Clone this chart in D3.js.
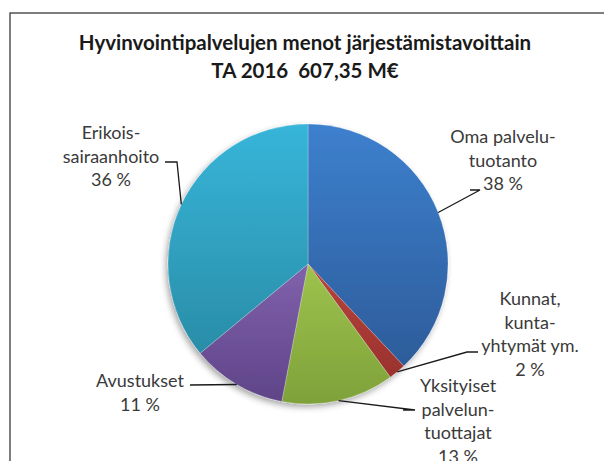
<!DOCTYPE html>
<html lang="fi">
<head>
	<meta charset="utf-8">
	<title>Hyvinvointipalvelujen menot</title>
	<style>
		body { margin: 0; background: #fff; }
		svg text { font-family: Lato, "Open Sans", sans-serif; fill: #3a3a3a; }
		.title { font-weight: bold; fill: #1a1a1a; font-size: 20.5px; white-space: pre; }
		.lbl { font-size: 18px; }
	</style>
</head>
<body>
	<svg id="chart" width="604" height="461"></svg>

	<script src="https://d3js.org/d3.v7.min.js"></script>
	<script>
		"use strict";

		// data
		var categories = ["Oma palvelutuotanto", "Kunnat, kuntayhtymät ym.", "Yksityiset palveluntuottajat", "Avustukset", "Erikoissairaanhoito"];
		var shares = [38, 2, 13, 11, 36];
		var labelLines = [
			["Oma palvelu-", "tuotanto", "38 %"],
			["Kunnat,", "kunta-", "yhtymät ym.", "2 %"],
			["Yksityiset", "palvelun-", "tuottajat", "13 %"],
			["Avustukset", "11 %"],
			["Erikois-", "sairaanhoito", "36 %"]
		];
		var titleLines = ["Hyvinvointipalvelujen menot järjestämistavoittain", "TA 2016  607,35 M€"];

		// colours (gradient top / bottom)
		var topCol = ["#3d80ce", "#b8433d", "#9ec34d", "#8062ac", "#37b5d9"];
		var botCol = ["#2d5c9a", "#9a322e", "#7fa13a", "#5f4488", "#2a8da8"];

		// layout of labels: text centre x, first baseline, leader elbow
		var labelPos = [
			{x: 503, y: 143, ex: 480, ey: 190, hx: 470},
			{x: 530, y: 305, ex: 467, ey: 352, hx: 478},
			{x: 458, y: 392, ex: 415, ey: 410, hx: 403},
			{x: 140, y: 387, ex: 190, ey: 385, hx: 200},
			{x: 111, y: 139, ex: 177, ey: 162, hx: 165}
		];

		var svg = d3.select("#chart");
		var cx = 308, cy = 264, r = 140;
		var lh = 23.5;

		// frame
		svg.append("rect")
			.attr("x", 10).attr("y", 13)
			.attr("width", 600).attr("height", 460)
			.attr("fill", "none")
			.attr("stroke", "#3a3a3a")
			.attr("stroke-width", 1.3);

		// title
		svg.selectAll("text.title")
			.data(titleLines)
			.enter()
			.append("text")
			.attr("class", "title")
			.attr("x", 305)
			.attr("y", function(d, i){ return 50 + i * 28; })
			.attr("text-anchor", "middle")
			.text(function(d){ return d; });

		var defs = svg.append("defs");
		var sh = defs.append("filter").attr("id", "shadow")
			.attr("x", "-20%").attr("y", "-20%").attr("width", "140%").attr("height", "140%");
		sh.append("feDropShadow")
			.attr("dx", -2).attr("dy", 3)
			.attr("stdDeviation", 3)
			.attr("flood-color", "#000")
			.attr("flood-opacity", 0.35);

		shares.forEach(function(d, i){
			var g = defs.append("linearGradient")
				.attr("id", "grad" + i)
				.attr("x1", 0).attr("y1", 0).attr("x2", 0).attr("y2", 1);
			g.append("stop").attr("offset", "0%").attr("stop-color", topCol[i]);
			g.append("stop").attr("offset", "100%").attr("stop-color", botCol[i]);
		});

		var pie = d3.pie().sort(null).value(function(d){ return d; });
		var arcs = pie(shares);
		var arc = d3.arc().innerRadius(0).outerRadius(r);

		var pg = svg.append("g")
			.attr("transform", "translate(" + cx + "," + cy + ")");

		pg.append("g")
			.attr("filter", "url(#shadow)")
			.selectAll("path")
			.data(arcs)
			.enter()
			.append("path")
			.attr("d", arc)
			.attr("fill", function(d, i){ return "url(#grad" + i + ")"; })
			.attr("stroke", "#ffffff")
			.attr("stroke-opacity", 0.4)
			.attr("stroke-width", 0.6);

		// leader lines from slice mid-angle on the edge
		svg.selectAll("path.leader")
			.data(arcs)
			.enter()
			.append("path")
			.attr("class", "leader")
			.attr("fill", "none")
			.attr("stroke", "#1a1a1a")
			.attr("stroke-width", 1.3)
			.attr("d", function(d, i){
				var a = (d.startAngle + d.endAngle) / 2;
				var px = cx + Math.sin(a) * r;
				var py = cy - Math.cos(a) * r;
				var p = labelPos[i];
				return "M" + px + "," + py + "L" + p.ex + "," + p.ey + "L" + p.hx + "," + p.ey;
			});

		// labels
		labelLines.forEach(function(lines, i){
			var p = labelPos[i];
			svg.append("text")
				.attr("class", "lbl")
				.attr("text-anchor", "middle")
				.selectAll("tspan")
				.data(lines)
				.enter()
				.append("tspan")
				.attr("x", p.x)
				.attr("y", function(d, j){ return p.y + j * lh; })
				.text(function(d){ return d; });
		});
	</script>
</body>
</html>
